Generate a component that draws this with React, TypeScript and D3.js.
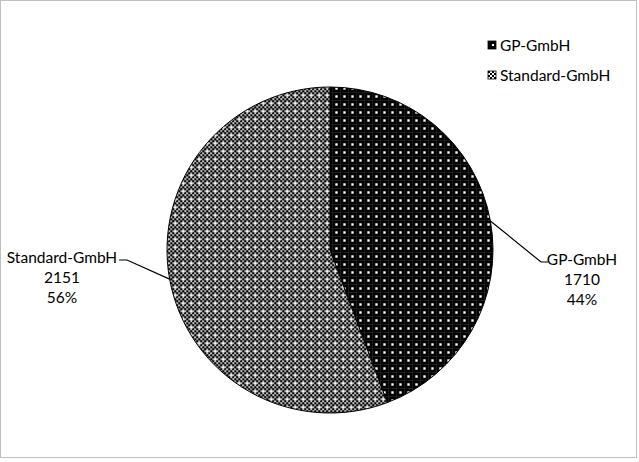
import React from "react";
import * as d3 from "d3";

const categories = ["GP-GmbH", "Standard-GmbH"];
const values = [1710, 2151];
const patternIds = ["patGP", "patStd"];

const W = 639;
const H = 462;
const cx = 330;
const cy = 250;
const R = 163;
const FONT = "Lato, 'Noto Sans', sans-serif";

export default function App() {
  const total = d3.sum(values);
  const pie = d3
    .pie<number>()
    .sort(null)
    .value((d) => d)
    .startAngle(0)
    .endAngle(2 * Math.PI);
  const arcs = pie(values);
  const arc = d3.arc<d3.PieArcDatum<number>>().innerRadius(0).outerRadius(R);

  const pct = values.map((v) => Math.round((v / total) * 100) + "%");

  const labelLayout = [
    { x: 582, y: 259, elbowX: 541, side: 1 },
    { x: 62, y: 257, elbowX: 127, side: -1 },
  ];

  const checker: JSX.Element[] = [];
  for (let i = 0; i < 4; i++) {
    for (let j = 0; j < 4; j++) {
      if ((i + j) % 2 === 0 && !(i === 2 && j === 2))
        checker.push(<rect key={i + "-" + j} x={i * 2 - 0.25} y={j * 2 - 0.25} width={2.5} height={2.5} fill="#000" />);
    }
  }
  const checkerSmall: JSX.Element[] = [];
  for (let i = 0; i < 4; i++) {
    for (let j = 0; j < 4; j++) {
      if ((i + j) % 2 === 0)
        checkerSmall.push(<rect key={i + "-" + j} x={i * 2} y={j * 2} width={2} height={2} fill="#000" />);
    }
  }

  return (
    <svg
      width={W}
      height={H}
      style={{ position: "absolute", left: 0, top: 0, background: "#fff" }}
      fontFamily={FONT}
    >
      <defs>
        <pattern id="patGP" patternUnits="userSpaceOnUse" width={8} height={8} x={2} y={2}>
          <rect width={8} height={8} fill="#000" />
          <rect x={0} y={0} width={8} height={0.6} fill="#2a2a2a" />
          <rect x={0} y={0} width={0.6} height={8} fill="#2a2a2a" />
          <rect x={3.3} y={3.3} width={2.4} height={2.4} fill="#fff" />
        </pattern>
        <pattern id="patStd" patternUnits="userSpaceOnUse" width={8} height={8} x={0.25} y={0.25}>
          <rect width={8} height={8} fill="#fff" />
          {checker}
        </pattern>
        <pattern id="legGP" patternUnits="userSpaceOnUse" width={8} height={8}>
          <rect width={8} height={8} fill="#000" />
          <rect x={4} y={3} width={2} height={2} fill="#fff" />
        </pattern>
        <pattern id="legStd" patternUnits="userSpaceOnUse" width={8} height={8} shapeRendering="crispEdges">
          <rect width={8} height={8} fill="#fff" />
          {checkerSmall}
        </pattern>
      </defs>

      <rect x={0.5} y={0.5} width={636} height={457} fill="#fff" stroke="#bfbfbf" strokeWidth={1} />

      <g transform={`translate(${cx},${cy})`}>
        {arcs.map((a, i) => (
          <path key={categories[i]} d={arc(a) || ""} fill={`url(#${patternIds[i]})`} stroke="#000" strokeWidth={1} />
        ))}
      </g>

      {arcs.map((a, i) => {
        const mid = (a.startAngle + a.endAngle) / 2;
        const sx = cx + R * Math.sin(mid);
        const sy = cy - R * Math.cos(mid);
        const L = labelLayout[i];
        const ey = L.y + 3;
        const hx = L.elbowX + (L.side > 0 ? 7 : -8);
        return (
          <g key={"lbl" + i}>
            <polyline
              points={`${sx},${sy} ${L.elbowX},${ey} ${hx},${ey}`}
              fill="none"
              stroke="#000"
              strokeWidth={1.2}
            />
            <text x={L.x} y={L.y} textAnchor="middle" dominantBaseline="central" fontSize={15.5} fill="#000">
              <tspan x={L.x} dy={0}>{categories[i]}</tspan>
              <tspan x={L.x} dy={20}>{values[i]}</tspan>
              <tspan x={L.x} dy={20}>{pct[i]}</tspan>
            </text>
          </g>
        );
      })}

      {categories.map((c, i) => (
        <g key={"leg" + i} transform={`translate(488,${41 + i * 30})`}>
          <rect x={0} y={0} width={8} height={8} fill={i === 0 ? "url(#legGP)" : "url(#legStd)"} stroke="#000" strokeWidth={0.8} />
          <text x={12} y={4} dominantBaseline="central" fontSize={15.5} fill="#000">
            {c}
          </text>
        </g>
      ))}
    </svg>
  );
}
